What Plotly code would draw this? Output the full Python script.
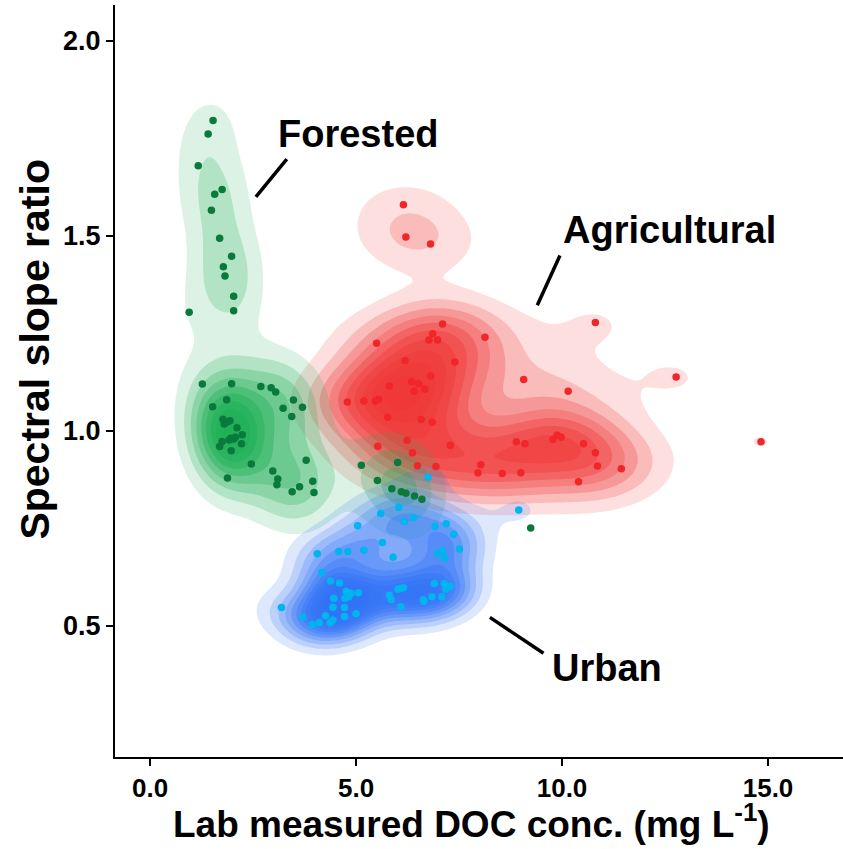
import numpy as np
import plotly.graph_objects as go

# ---------------- data ----------------
forested_x = [1.53, 1.41, 1.17, 1.75, 1.57, 1.49, 1.69, 1.98, 1.78, 1.82, 2.03, 0.95, 2.03,
              1.27, 1.98, 2.69, 2.94, 3.05, 1.86, 1.52, 3.48, 3.23, 3.70, 3.44,
              1.77, 1.94, 1.80, 1.87, 2.11, 2.24, 1.96, 2.03, 1.92, 2.07, 1.75, 1.69, 2.22, 1.97,
              3.79, 2.46, 2.98, 1.88, 3.10, 3.08, 3.95, 3.63, 3.45, 3.98,
              5.13, 6.01, 5.52, 5.87, 6.10, 6.21, 6.42, 6.60, 9.24]
forested_y = [1.796, 1.761, 1.680, 1.619, 1.607, 1.566, 1.494, 1.448, 1.421, 1.397, 1.345, 1.304, 1.308,
              1.120, 1.121, 1.114, 1.111, 1.100, 1.080, 1.062, 1.079, 1.058, 1.061, 1.037,
              1.030, 1.026, 1.018, 1.023, 1.008, 0.990, 0.981, 0.979, 0.977, 0.984, 0.973, 0.960, 0.967, 0.949,
              0.925, 0.915, 0.897, 0.879, 0.877, 0.862, 0.871, 0.857, 0.844, 0.842,
              0.912, 0.919, 0.873, 0.852, 0.844, 0.840, 0.833, 0.825, 0.751]

agri_x = [6.15, 6.21, 6.81,
          7.10, 6.86, 6.77, 6.98, 5.50, 8.13,
          6.19, 7.40, 6.81, 5.81, 6.35, 6.52, 6.41, 6.67,
          4.79, 5.19, 5.47, 5.55, 5.77, 6.58, 6.85,
          6.24, 5.53, 7.29, 6.37, 6.49, 6.94, 8.03, 7.96, 8.55,
          10.81, 12.77, 9.07, 10.15, 8.89, 9.10, 9.78, 9.88, 9.98, 10.52, 10.81, 10.86, 11.44,
          9.00, 10.40, 14.83]
agri_y = [1.580, 1.497, 1.479,
          1.274, 1.249, 1.233, 1.233, 1.225, 1.240,
          1.180, 1.177, 1.141, 1.115, 1.126, 1.121, 1.102, 1.107,
          1.074, 1.077, 1.077, 1.081, 1.035, 1.029, 1.022,
          0.976, 0.961, 0.963, 0.944, 0.911, 0.909, 0.913, 0.893, 0.891,
          1.278, 1.138, 1.132, 1.102, 0.972, 0.967, 0.978, 0.989, 0.984, 0.967, 0.944, 0.910, 0.903,
          0.893, 0.870, 0.972]

urban_x = [6.75, 6.04, 5.60, 6.40, 6.17, 5.04, 6.92, 7.19, 7.37, 5.64, 7.51,
           4.06, 4.58, 4.80, 5.19, 5.90, 6.98, 7.10, 7.15,
           4.17, 4.38, 4.60, 6.90, 7.14, 7.29, 7.18, 7.08, 6.84, 6.63,
           6.07, 6.15, 6.02, 5.81, 5.85, 6.09, 6.65,
           4.76, 4.88, 5.06, 4.73, 4.82, 4.46, 4.44, 4.72, 4.72, 5.00,
           3.19, 3.71, 4.26, 3.94, 4.11, 4.37, 4.44, 8.95]
urban_y = [0.881, 0.804, 0.788, 0.778, 0.768, 0.757, 0.755, 0.762, 0.735, 0.714, 0.697,
           0.685, 0.691, 0.691, 0.694, 0.676, 0.685, 0.692, 0.674,
           0.637, 0.615, 0.610, 0.609, 0.609, 0.601, 0.594, 0.575, 0.575, 0.567,
           0.596, 0.598, 0.594, 0.579, 0.568, 0.549, 0.563,
           0.588, 0.584, 0.585, 0.571, 0.575, 0.571, 0.548, 0.547, 0.524, 0.531,
           0.547, 0.522, 0.526, 0.504, 0.508, 0.508, 0.515, 0.797]

x_ticks = [0.0, 5.0, 10.0, 15.0]
y_ticks = [0.5, 1.0, 1.5, 2.0]
x_range = [-0.85, 16.82]
y_range = [0.164, 2.092]

groups = [
    # name, x, y, fill rgb, point colour
    ("Agricultural", agri_x, agri_y, (240, 55, 55), "#f0262a"),
    ("Forested", forested_x, forested_y, (30, 175, 85), "#0a7a3c"),
    ("Urban", urban_x, urban_y, (50, 115, 245), "#00b4f0"),
]

labels = [
    # text, text x, text y, line x0, y0, x1, y1
    ("Forested", 5.05, 1.762, 2.57, 1.600, 3.32, 1.697),
    ("Agricultural", 12.6, 1.515, 9.40, 1.322, 9.95, 1.450),
    ("Urban", 11.1, 0.393, 8.25, 0.522, 9.55, 0.430),
]

# ---------------- 2D kernel density (MASS::kde2d style) ----------------
def bw_nrd(v):
    v = np.asarray(v, float)
    q75, q25 = np.percentile(v, [75, 25])
    return 4 * 1.06 * min(np.std(v, ddof=1), (q75 - q25) / 1.34) * len(v) ** (-0.2)

def kde2d(x, y, gx, gy):
    x = np.asarray(x, float); y = np.asarray(y, float)
    hx = bw_nrd(x) / 4; hy = bw_nrd(y) / 4
    phi = lambda u: np.exp(-0.5 * u * u) / np.sqrt(2 * np.pi)
    ax = phi((gx[:, None] - x[None, :]) / hx)
    ay = phi((gy[:, None] - y[None, :]) / hy)
    return ay @ ax.T / (len(x) * hx * hy)

gx = np.linspace(x_range[0], x_range[1], 280)
gy = np.linspace(y_range[0], y_range[1], 280)
dens = [kde2d(g[1], g[2], gx, gy) for g in groups]

def pretty_step(r, n=10):
    raw = r / n
    mag = 10 ** np.floor(np.log10(raw))
    u = raw / mag
    if u < 1.5:
        m = 1
    elif u < 3:
        m = 2
    elif u < 7:
        m = 5
    else:
        m = 10
    return m * mag

fig = go.Figure()
O_LOW, O_HIGH = 0.16, 0.60
for (name, xs, ys, rgb, pcol), z in zip(groups, dens):
    step = pretty_step(z.max())
    nk = int(np.floor(z.max() / step))
    cols = []
    for k in range(nk):
        o = O_LOW + (O_HIGH - O_LOW) * (k / max(nk - 1, 1))
        cols.append("rgba(%d,%d,%d,%.3f)" % (rgb[0], rgb[1], rgb[2], o))
    bg = "rgba(255,255,255,0)"
    cs = [[0, bg], [1 / nk, bg]]
    for k in range(nk - 1):
        cs.append([(k + 1) / nk, cols[k]])
        cs.append([(k + 2) / nk if k < nk - 2 else (nk - 1) / nk, cols[k]])
    cs.append([(nk - 1) / nk, cols[-1]])
    cs.append([1, cols[-1]])
    fig.add_trace(go.Contour(
        x=gx, y=gy, z=z, colorscale=cs, showscale=False, hoverinfo="skip",
        contours=dict(start=step, end=step * nk, size=step, coloring="fill", showlines=False),
        line=dict(width=0), name=name, showlegend=False))

for (name, xs, ys, rgb, pcol) in groups:
    fig.add_trace(go.Scatter(x=xs, y=ys, mode="markers", name=name, showlegend=False,
                             marker=dict(color=pcol, size=7.5, line=dict(width=0))))

FONT = "Liberation Sans, Arial, sans-serif"
for text, tx, ty, x0, y0, x1, y1 in labels:
    fig.add_annotation(x=tx, y=ty, text="<b>%s</b>" % text, showarrow=False,
                       font=dict(family=FONT, size=38, color="black"))
    fig.add_shape(type="line", x0=x0, y0=y0, x1=x1, y1=y1, line=dict(color="black", width=3.5))

# axis titles placed as text to match the reference positions
fig.add_annotation(xref="paper", yref="paper", x=-0.11, y=0.543, xanchor="center", yanchor="middle",
                   text="<b>Spectral slope ratio</b>", textangle=-90, showarrow=False,
                   font=dict(family=FONT, size=41, color="black"))
fig.add_annotation(xref="paper", yref="paper", x=0.49, y=-0.086, xanchor="center", yanchor="middle",
                   text="<b>Lab measured DOC conc. (mg L<sup>-1</sup>)</b>", showarrow=False,
                   font=dict(family=FONT, size=37, color="black"))

fig.update_layout(
    width=843, height=849, margin=dict(l=115, r=0, t=5, b=92),
    paper_bgcolor="white", plot_bgcolor="white", showlegend=False,
    font=dict(family=FONT, color="black"),
)
fig.update_xaxes(range=x_range, tickvals=x_ticks, ticktext=["%.1f" % v for v in x_ticks],
                 showgrid=False, zeroline=False, showline=True, linecolor="black", linewidth=2,
                 ticks="outside", ticklen=7, tickwidth=2, tickcolor="black",
                 tickfont=dict(family=FONT, size=26, color="black", weight="bold"))
fig.update_yaxes(range=y_range, tickvals=y_ticks, ticktext=["%.1f" % v for v in y_ticks],
                 showgrid=False, zeroline=False, showline=True, linecolor="black", linewidth=2,
                 ticks="outside", ticklen=7, tickwidth=2, tickcolor="black",
                 tickfont=dict(family=FONT, size=27, color="black", weight="bold"))

fig.write_html("out.html")
